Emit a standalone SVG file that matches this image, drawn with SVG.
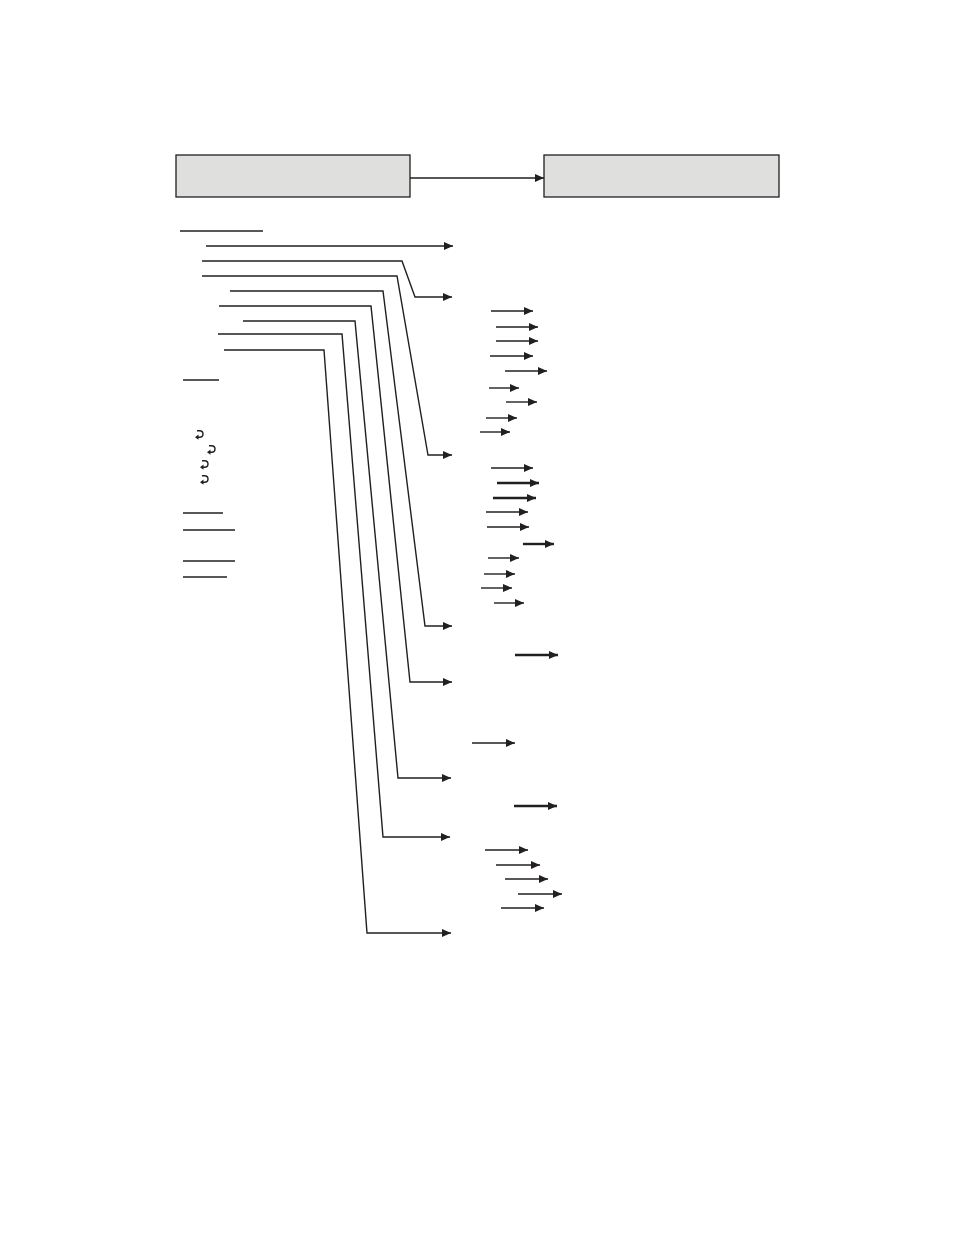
<svg xmlns="http://www.w3.org/2000/svg" width="954" height="1235" viewBox="0 0 954 1235">
<style>
.box{fill:#dfdfdd;stroke:#231f20;stroke-width:1.3}
.ln{fill:none;stroke:#231f20;stroke-width:1.4}
.th{fill:none;stroke:#231f20;stroke-width:2.4}
.ul{fill:none;stroke:#231f20;stroke-width:1.3}
</style>
<defs>
<marker id="ah" markerUnits="userSpaceOnUse" markerWidth="9" markerHeight="8" refX="9" refY="4" orient="auto">
<path d="M0,0 L9,4 L0,8 z" fill="#231f20"/>
</marker>
<g id="hook">
<path d="M2,0.8 L4.5,0.8 Q8,0.8 8,4 Q8,7.2 4.5,7.2 L3,7.2" fill="none" stroke="#231f20" stroke-width="1.4"/>
<path d="M3.5,4.6 L0,7.2 L3.5,9.8 z" fill="#231f20"/>
</g>
</defs>
<rect width="954" height="1235" fill="#ffffff"/>
<g id="node-left"><rect class="box" x="176" y="155" width="234" height="42"/></g>
<g id="node-right"><rect class="box" x="544" y="155" width="235" height="42"/></g>
<g id="underlines">
<line class="ul" x1="180" y1="231" x2="263" y2="231"/>
<line class="ul" x1="183" y1="380" x2="219" y2="380"/>
<line class="ul" x1="183" y1="513" x2="223" y2="513"/>
<line class="ul" x1="183" y1="530" x2="235" y2="530"/>
<line class="ul" x1="183" y1="561" x2="235" y2="561"/>
<line class="ul" x1="183" y1="577" x2="227" y2="577"/>
</g>
<g id="hooks">
<use href="#hook" x="195" y="430"/>
<use href="#hook" x="207" y="445"/>
<use href="#hook" x="200" y="460"/>
<use href="#hook" x="200" y="475"/>
</g>
<g id="connectors">
<line class="ln" x1="410" y1="178" x2="544" y2="178" marker-end="url(#ah)"/>
<line class="ln" x1="206" y1="246" x2="453" y2="246" marker-end="url(#ah)"/>
<polyline class="ln" points="202,261 402,261 415,297 452,297" marker-end="url(#ah)"/>
<polyline class="ln" points="202,276 397,276 428,455 452,455" marker-end="url(#ah)"/>
<polyline class="ln" points="230,291 383,291 425,626 452,626" marker-end="url(#ah)"/>
<polyline class="ln" points="219,306 371,306 410,682 452,682" marker-end="url(#ah)"/>
<polyline class="ln" points="243,321 355,321 398,778 451,778" marker-end="url(#ah)"/>
<polyline class="ln" points="218,334 342,334 383,837 450,837" marker-end="url(#ah)"/>
<polyline class="ln" points="224,350 324,350 367,933 451,933" marker-end="url(#ah)"/>
<line class="ln" x1="491" y1="311" x2="533" y2="311" marker-end="url(#ah)"/>
<line class="ln" x1="496" y1="327" x2="538" y2="327" marker-end="url(#ah)"/>
<line class="ln" x1="496" y1="341" x2="538" y2="341" marker-end="url(#ah)"/>
<line class="ln" x1="490" y1="356" x2="533" y2="356" marker-end="url(#ah)"/>
<line class="ln" x1="505" y1="371" x2="547" y2="371" marker-end="url(#ah)"/>
<line class="ln" x1="489" y1="388" x2="519" y2="388" marker-end="url(#ah)"/>
<line class="ln" x1="506" y1="402" x2="537" y2="402" marker-end="url(#ah)"/>
<line class="ln" x1="486" y1="418" x2="517" y2="418" marker-end="url(#ah)"/>
<line class="ln" x1="480" y1="432" x2="510" y2="432" marker-end="url(#ah)"/>
<line class="ln" x1="491" y1="468" x2="533" y2="468" marker-end="url(#ah)"/>
<line class="th" x1="497" y1="483" x2="539" y2="483" marker-end="url(#ah)"/>
<line class="th" x1="493" y1="498" x2="536" y2="498" marker-end="url(#ah)"/>
<line class="ln" x1="486" y1="512" x2="528" y2="512" marker-end="url(#ah)"/>
<line class="ln" x1="487" y1="527" x2="529" y2="527" marker-end="url(#ah)"/>
<line class="th" x1="523" y1="544" x2="554" y2="544" marker-end="url(#ah)"/>
<line class="ln" x1="488" y1="558" x2="519" y2="558" marker-end="url(#ah)"/>
<line class="ln" x1="484" y1="574" x2="515" y2="574" marker-end="url(#ah)"/>
<line class="ln" x1="481" y1="588" x2="512" y2="588" marker-end="url(#ah)"/>
<line class="ln" x1="494" y1="603" x2="524" y2="603" marker-end="url(#ah)"/>
<line class="th" x1="515" y1="655" x2="558" y2="655" marker-end="url(#ah)"/>
<line class="ln" x1="472" y1="743" x2="515" y2="743" marker-end="url(#ah)"/>
<line class="th" x1="514" y1="806" x2="557" y2="806" marker-end="url(#ah)"/>
<line class="ln" x1="485" y1="850" x2="528" y2="850" marker-end="url(#ah)"/>
<line class="ln" x1="496" y1="865" x2="540" y2="865" marker-end="url(#ah)"/>
<line class="ln" x1="505" y1="879" x2="548" y2="879" marker-end="url(#ah)"/>
<line class="ln" x1="518" y1="894" x2="562" y2="894" marker-end="url(#ah)"/>
<line class="ln" x1="501" y1="908" x2="544" y2="908" marker-end="url(#ah)"/>
</g>
</svg>
